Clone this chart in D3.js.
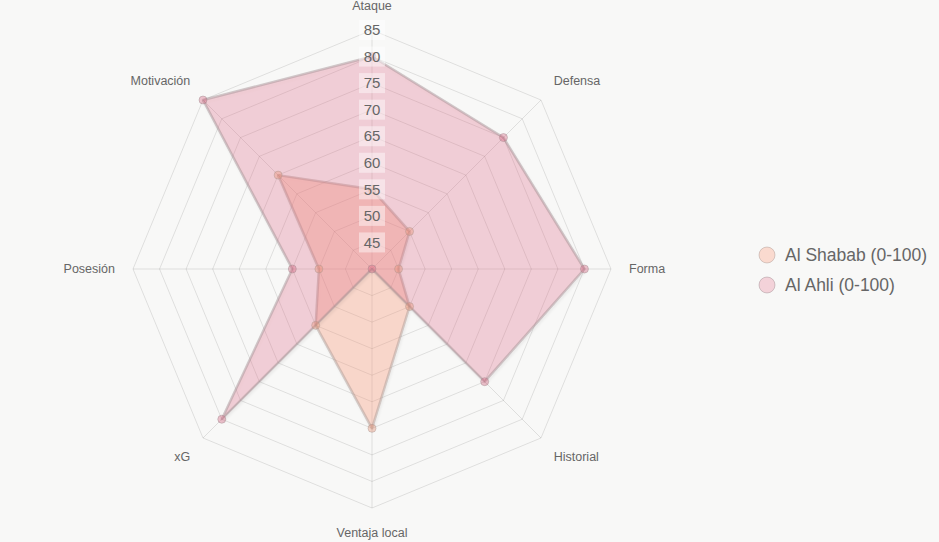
<!DOCTYPE html>
<meta charset="utf-8">
<style>
body { margin: 0; background: #f8f8f7; }
svg { display: block; font-family: "Liberation Sans", Arial, sans-serif; }
.grid polygon { fill: none; stroke: rgba(0,0,0,0.1); stroke-width: 1px; }
.axes line { stroke: rgba(0,0,0,0.1); stroke-width: 1px; }
.plabel { font-size: 12.5px; fill: #666; }
.tick text { font-size: 15px; fill: #666; }
.legend text { font-size: 17.5px; fill: #666; }
</style>
<svg width="939" height="542"></svg>
<script src="https://d3js.org/d3.v7.min.js"></script>
<script>

var categories = ["Ataque", "Defensa", "Forma", "Historial", "Ventaja local", "xG", "Posesión", "Motivación"];
var shabab = [55, 50, 45, 50, 70, 55, 50, 65];
var ahli = [80, 75, 80, 70, 40, 80, 55, 85];
var tickValues = [45, 50, 55, 60, 65, 70, 75, 80, 85];

var series = [
  { name: "Al Shabab (0-100)", values: shabab, fill: "rgba(255,150,115,0.3)", stroke: "rgba(170,150,145,0.45)", point: "rgba(235,140,110,0.35)" },
  { name: "Al Ahli (0-100)", values: ahli, fill: "rgba(228,100,130,0.26)", stroke: "rgba(160,140,145,0.45)", point: "rgba(215,90,120,0.35)" }
];

var svg = d3.select("svg"),
    cx = 372,
    cy = 269,
    R = 239;

var r = d3.scaleLinear().domain([40, 85]).range([0, R]);
var n = categories.length;

function angle(i) { return i * 2 * Math.PI / n - Math.PI / 2; }
function pt(i, rad) { return [cx + rad * Math.cos(angle(i)), cy + rad * Math.sin(angle(i))]; }

// rings
svg.append("g").attr("class", "grid")
  .selectAll("polygon")
  .data(tickValues)
  .enter().append("polygon")
    .attr("points", function(v) {
      return d3.range(n).map(function(i) { return pt(i, r(v)).join(","); }).join(" ");
    });

// spokes
svg.append("g").attr("class", "axes")
  .selectAll("line")
  .data(categories)
  .enter().append("line")
    .attr("x1", cx).attr("y1", cy)
    .attr("x2", function(d, i) { return pt(i, R)[0]; })
    .attr("y2", function(d, i) { return pt(i, R)[1]; });

// data polygons
var defs = svg.append("defs");
var f = defs.append("filter").attr("id", "shadow").attr("x", "-10%").attr("y", "-10%").attr("width", "120%").attr("height", "120%");
f.append("feDropShadow").attr("dx", 1).attr("dy", 2).attr("stdDeviation", 1.2).attr("flood-color", "#000").attr("flood-opacity", 0.1);

var line = d3.lineRadial()
    .angle(function(d, i) { return i * 2 * Math.PI / n; })
    .radius(function(d) { return r(d); })
    .curve(d3.curveLinearClosed);

var layer = svg.append("g").attr("transform", "translate(" + cx + "," + cy + ")");

series.forEach(function(s) {
  layer.append("path")
    .attr("d", line(s.values))
    .attr("fill", s.fill)
    .attr("stroke", s.stroke)
    .attr("stroke-width", 2.5)
    .attr("stroke-linejoin", "round")
    .attr("filter", "url(#shadow)");
});

series.forEach(function(s) {
  layer.selectAll(null)
    .data(s.values)
    .enter().append("circle")
      .attr("cx", function(d, i) { return pt(i, r(d))[0] - cx; })
      .attr("cy", function(d, i) { return pt(i, r(d))[1] - cy; })
      .attr("r", 4)
      .attr("fill", s.point)
      .attr("stroke", s.stroke)
      .attr("stroke-width", 1);
});

// tick labels with backdrop
var ticks = svg.append("g").attr("class", "tick")
  .selectAll("g")
  .data(tickValues)
  .enter().append("g")
    .attr("transform", function(v) { return "translate(" + cx + "," + (cy - r(v)) + ")"; });

ticks.append("rect")
  .attr("x", -13).attr("y", -10).attr("width", 26).attr("height", 20)
  .attr("fill", "rgba(255,255,255,0.45)");

ticks.append("text")
  .attr("text-anchor", "middle")
  .attr("dy", "0.35em")
  .text(function(v) { return v; });

// point labels
svg.append("g")
  .selectAll("text")
  .data(categories)
  .enter().append("text")
    .attr("class", "plabel")
    .each(function(d, i) {
      var p = pt(i, R + 18),
          c = Math.cos(angle(i)),
          s = Math.sin(angle(i));
      var anchor = Math.abs(c) < 0.01 ? "middle" : (c > 0 ? "start" : "end");
      var dy = Math.abs(s) < 0.01 ? "0.35em" : (s < 0 ? "-0.2em" : "0.85em");
      d3.select(this)
        .attr("x", p[0]).attr("y", p[1])
        .attr("text-anchor", anchor)
        .attr("dy", dy)
        .text(d);
    });

// legend
var legend = svg.append("g").attr("class", "legend")
  .selectAll("g")
  .data(series)
  .enter().append("g")
    .attr("transform", function(d, i) { return "translate(767," + (255 + i * 30) + ")"; });

legend.append("circle")
  .attr("r", 8)
  .attr("fill", function(d) { return d.fill; })
  .attr("stroke", function(d) { return d.stroke; })
  .attr("stroke-width", 1);

legend.append("text")
  .attr("x", 18)
  .attr("dy", "0.35em")
  .text(function(d) { return d.name; });

</script>
